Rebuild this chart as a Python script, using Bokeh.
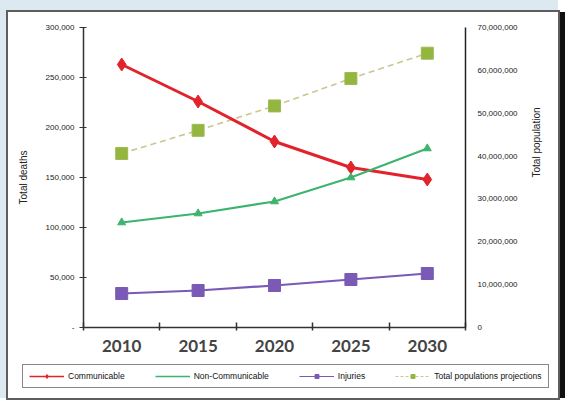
import math
from bokeh.plotting import figure
from bokeh.layouts import column
from bokeh.models import (Range1d, LinearAxis, FixedTicker, CustomJSTickFormatter,
                          NumeralTickFormatter, Legend, LegendItem)
from bokeh.embed import file_html
from bokeh.resources import INLINE

years = [2010, 2015, 2020, 2025, 2030]
communicable = [263000, 226000, 186000, 160000, 148000]
non_communicable = [105000, 114000, 126000, 150000, 179000]
injuries = [34000, 37000, 42000, 48000, 54000]
population = [40.6e6, 46.0e6, 51.7e6, 58.1e6, 64.0e6]
death_ticks = [0, 50000, 100000, 150000, 200000, 250000, 300000]
pop_ticks = [0, 10e6, 20e6, 30e6, 40e6, 50e6, 60e6, 70e6]
year_bounds = [2007.5, 2012.5, 2017.5, 2022.5, 2027.5, 2032.5]
series_names = ["Communicable", "Non-Communicable", "Injuries", "Total populations projections"]

RED, GREEN, PURPLE = "#e2232b", "#3db46d", "#7a5ab5"
POP_LINE, POP_FILL = "#cbc690", "#94b63e"

fig = figure(width=550, height=350, output_backend="svg", toolbar_location=None,
             x_range=Range1d(year_bounds[0], year_bounds[-1]),
             y_range=Range1d(death_ticks[0], death_ticks[-1]),
             min_border_left=75, min_border_right=93, min_border_top=15, min_border_bottom=35)
fig.outline_line_color = None
fig.background_fill_color = "white"
fig.border_fill_color = "white"
fig.xgrid.visible = False
fig.ygrid.visible = False

fig.extra_y_ranges = {"pop": Range1d(pop_ticks[0], pop_ticks[-1])}

# x axis
xa = fig.xaxis[0]
xa.ticker = FixedTicker(ticks=years, minor_ticks=year_bounds)
xa.major_tick_line_color = None
xa.minor_tick_line_color = "#333333"
xa.minor_tick_line_width = 1.5
xa.minor_tick_in = 5
xa.minor_tick_out = 3
xa.axis_line_color = "#333333"
xa.axis_line_width = 1.5
xa.major_label_text_font = "Lato"
xa.major_label_text_font_size = "17px"
xa.major_label_text_font_style = "bold"
xa.major_label_text_color = "#444444"
xa.major_label_standoff = 6

# left axis
ya = fig.yaxis[0]
ya.ticker = FixedTicker(ticks=death_ticks)
ya.formatter = CustomJSTickFormatter(code="return tick == 0 ? '-' : tick.toLocaleString('en-US');")
ya.axis_line_color = "#333333"
ya.axis_line_width = 1.5
ya.major_tick_line_color = "#333333"
ya.major_tick_in = 3
ya.major_tick_out = 4
ya.minor_tick_line_color = None
ya.major_label_text_font = "Liberation Sans"
ya.major_label_text_font_size = "8px"
ya.major_label_text_color = "#1a1a1a"
ya.major_label_standoff = 5
ya.axis_label = "Total deaths"
ya.axis_label_text_font = "Liberation Sans"
ya.axis_label_text_font_size = "10px"
ya.axis_label_text_font_style = "normal"
ya.axis_label_text_color = "#222222"
ya.axis_label_standoff = 14

# right axis
ra = LinearAxis(y_range_name="pop", ticker=FixedTicker(ticks=pop_ticks),
                formatter=NumeralTickFormatter(format="0,0"))
ra.axis_line_color = "#222222"
ra.axis_line_width = 1.5
ra.major_tick_line_color = None
ra.minor_tick_line_color = None
ra.major_label_text_font = "Liberation Sans"
ra.major_label_text_font_size = "8px"
ra.major_label_text_color = "#1a1a1a"
ra.major_label_standoff = 6
ra.axis_label = "Total population"
ra.axis_label_text_font = "Liberation Sans"
ra.axis_label_text_font_size = "10px"
ra.axis_label_text_font_style = "normal"
ra.axis_label_text_color = "#222222"
ra.axis_label_standoff = 16
try:
    ra.axis_label_orientation = math.pi / 2
except Exception:
    pass
fig.add_layout(ra, "right")

# series
fig.line(years, population, y_range_name="pop", line_color=POP_LINE,
         line_width=1.6, line_dash="6 4")
fig.scatter(years, population, y_range_name="pop", marker="square", size=12,
            fill_color=POP_FILL, line_color="#9cbc52")

fig.line(years, communicable, line_color=RED, line_width=3)
fig.scatter(years, communicable, marker="diamond", size=13, fill_color=RED, line_color=RED)

fig.line(years, non_communicable, line_color=GREEN, line_width=2.2)
fig.scatter(years, non_communicable, marker="triangle", size=8, fill_color=GREEN, line_color=GREEN)

fig.line(years, injuries, line_color=PURPLE, line_width=2.2)
fig.scatter(years, injuries, marker="square", size=12, fill_color=PURPLE, line_color=PURPLE)

# legend strip: same series, drawn outside its visible range so only the keys show
lf = figure(width=550, height=36, output_backend="svg", toolbar_location=None,
            x_range=Range1d(0, 1), y_range=Range1d(0, 1),
            x_axis_type=None, y_axis_type=None,
            min_border_left=0, min_border_right=0, min_border_top=0, min_border_bottom=0)
lf.outline_line_color = None
lf.xgrid.visible = False
lf.ygrid.visible = False
lf.border_fill_color = "white"
lf.background_fill_color = "white"
try:
    lf.frame_align = False
    fig.frame_align = False
except Exception:
    pass

k1 = [lf.line(years, communicable, line_color=RED, line_width=1.5),
      lf.scatter(years, communicable, marker="diamond", size=6, fill_color=RED, line_color=RED)]
k2 = [lf.line(years, non_communicable, line_color=GREEN, line_width=1.5)]
k3 = [lf.line(years, injuries, line_color=PURPLE, line_width=1.2),
      lf.scatter(years, injuries, marker="square", size=5, fill_color=PURPLE, line_color=PURPLE)]
k4 = [lf.line(years, population, line_color=POP_LINE, line_width=1.2, line_dash="3 2"),
      lf.scatter(years, population, marker="square", size=5, fill_color=POP_FILL, line_color=POP_FILL)]

legend = Legend(items=[LegendItem(label=n, renderers=r)
                       for n, r in zip(series_names, [k1, k2, k3, k4])],
                orientation="horizontal", location=(14, 10))
legend.label_text_font = "Liberation Sans"
legend.label_text_font_size = "8.5px"
legend.label_text_color = "#111111"
legend.glyph_width = 35
legend.glyph_height = 10
legend.label_height = 10
legend.label_standoff = 4
legend.spacing = 30
legend.padding = 6
legend.margin = 0
legend.border_line_color = "#111111"
legend.border_line_width = 1.5
legend.background_fill_color = "white"
lf.add_layout(legend, "center")

box = column(fig, lf, spacing=0, margin=(12, 0, 0, 8),
             styles={"outline": "2px solid #5e5e5e", "background-color": "white",
                     "box-shadow": "7px 0 0 0 #111111"})
p = column(box, styles={"background-color": "#dde9f1"})

open("out.html", "w").write(file_html(p, INLINE))
